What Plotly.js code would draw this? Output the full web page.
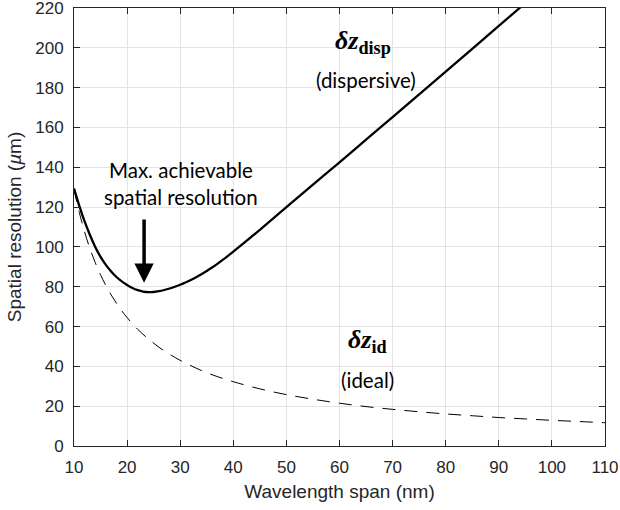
<!DOCTYPE html>
<html>
<head>
<meta charset="utf-8">
<script src="https://cdn.plot.ly/plotly-3.0.1.min.js"></script>
<style>
  html, body { margin: 0; padding: 0; background: #ffffff; }
  #chart { width: 620px; height: 510px; }
</style>
</head>
<body>
<div id="chart"></div>
<script>
// Wavelength span (nm) and spatial resolution (µm)
const spanIdeal = [10, 11, 12, 13, 14, 15, 16, 17, 18, 19, 20, 22, 24, 26, 28, 30, 33, 36, 40,
                   45, 50, 55, 60, 65, 70, 75, 80, 85, 90, 95, 100, 105, 110];
const resIdeal  = [129.0, 117.3, 107.5, 99.2, 92.1, 86.0, 80.6, 75.9, 71.7, 67.9, 64.5, 58.6,
                   53.8, 49.6, 46.1, 43.0, 39.1, 35.8, 32.3, 28.7, 25.8, 23.5, 21.5, 19.8,
                   18.4, 17.2, 16.1, 15.2, 14.3, 13.6, 12.9, 12.3, 11.7];

const spanDisp = [10, 11, 12, 13, 14, 15, 16, 17, 18, 19, 20, 21, 22, 23, 24, 25, 26, 27, 28,
                  29, 30, 31, 32, 33, 34, 35, 36, 37, 38, 39, 40, 45, 50, 55, 60, 65, 70, 75,
                  80, 85, 90, 95];
const resDisp  = [129.4, 120.6, 112.8, 106.0, 100.0, 95.0, 91.0, 87.7, 84.9, 82.7, 80.9, 79.4,
                  78.3, 77.6, 77.3, 77.35, 77.75, 78.35, 79.1, 80.0, 81.0, 82.12, 83.37, 84.75,
                  86.26, 87.89, 89.64, 91.5, 93.46, 95.51, 97.63, 108.6, 120.0, 131.3, 142.5,
                  153.9, 165.2, 176.6, 188.0, 199.5, 211.0, 222.5];

// Best-resolution point marked by the arrow
const optimumSpan = 23.2;
const arrowTop = 114.5;
const arrowTip = 82.0;

const xTicks = [10, 20, 30, 40, 50, 60, 70, 80, 90, 100, 110];
const yTicks = [0, 20, 40, 60, 80, 100, 120, 140, 160, 180, 200, 220];

const axisColor = '#262626';
const gridColor = '#e4e4e4';
const sansFamily = 'Liberation Sans, Arial, sans-serif';
const tickFont = { family: sansFamily, size: 17, color: axisColor };
const titleFont = { family: sansFamily, size: 19, color: axisColor };
const noteFont = { family: 'Lato, sans-serif', size: 20.5, color: '#000000' };
const symFont  = { family: 'Liberation Serif, serif', size: 26, color: '#000000' };

const traces = [
  {
    x: spanIdeal, y: resIdeal, type: 'scatter', mode: 'lines',
    line: { color: '#000000', width: 1, dash: '13px,9px', shape: 'spline', smoothing: 1 },
    hoverinfo: 'skip'
  },
  {
    x: spanDisp, y: resDisp, type: 'scatter', mode: 'lines',
    line: { color: '#000000', width: 2.3, shape: 'spline', smoothing: 1 },
    hoverinfo: 'skip'
  }
];

const commonAxis = {
  showline: true, linecolor: axisColor, linewidth: 1, mirror: 'ticks',
  ticks: 'inside', ticklen: 6, tickwidth: 1, tickcolor: axisColor,
  showgrid: true, gridcolor: gridColor, gridwidth: 1,
  zeroline: false, tickfont: tickFont, automargin: false,
  ticklabeloverflow: 'allow'
};

const layout = {
  width: 620, height: 510,
  margin: { l: 74, r: 15, t: 8, b: 64 },
  paper_bgcolor: '#ffffff', plot_bgcolor: '#ffffff',
  showlegend: false,
  xaxis: Object.assign({}, commonAxis, {
    range: [10, 110], tickmode: 'array', tickvals: xTicks, ticktext: xTicks.map(String),
    ticklabelstandoff: 6,
    title: { text: 'Wavelength span (nm)', font: titleFont, standoff: 8 }
  }),
  yaxis: Object.assign({}, commonAxis, {
    range: [0, 220], tickmode: 'array', tickvals: yTicks, ticktext: yTicks.map(String),
    ticklabelstandoff: 6,
    title: { text: 'Spatial resolution (<i>µ</i>m)', font: titleFont, standoff: 8 }
  }),
  annotations: [
    { x: optimumSpan, y: arrowTip, ax: optimumSpan, ay: arrowTop, axref: 'x', ayref: 'y',
      xref: 'x', yref: 'y', text: '', showarrow: true,
      arrowhead: 2, arrowsize: 1.1, arrowwidth: 3.5, arrowcolor: '#000000', standoff: 0 },
    { x: 30.2, y: 138.6, xref: 'x', yref: 'y', text: 'Max. achievable',
      showarrow: false, font: noteFont, xanchor: 'center', yanchor: 'middle' },
    { x: 30.2, y: 125.3, xref: 'x', yref: 'y', text: 'spatial resolution',
      showarrow: false, font: noteFont, xanchor: 'center', yanchor: 'middle' },
    { x: 64.4, y: 203.0, xref: 'x', yref: 'y', text: '<b><i>δz</i><sub>disp</sub></b>',
      showarrow: false, font: symFont, xanchor: 'center', yanchor: 'middle' },
    { x: 65.0, y: 183.8, xref: 'x', yref: 'y', text: '(dispersive)',
      showarrow: false, font: noteFont, xanchor: 'center', yanchor: 'middle' },
    { x: 65.3, y: 52.8, xref: 'x', yref: 'y', text: '<b><i>δz</i><sub>id</sub></b>',
      showarrow: false, font: symFont, xanchor: 'center', yanchor: 'middle' },
    { x: 65.2, y: 33.1, xref: 'x', yref: 'y', text: '(ideal)',
      showarrow: false, font: noteFont, xanchor: 'center', yanchor: 'middle' }
  ]
};

Plotly.newPlot('chart', traces, layout, { displayModeBar: false, staticPlot: true });
</script>
</body>
</html>
